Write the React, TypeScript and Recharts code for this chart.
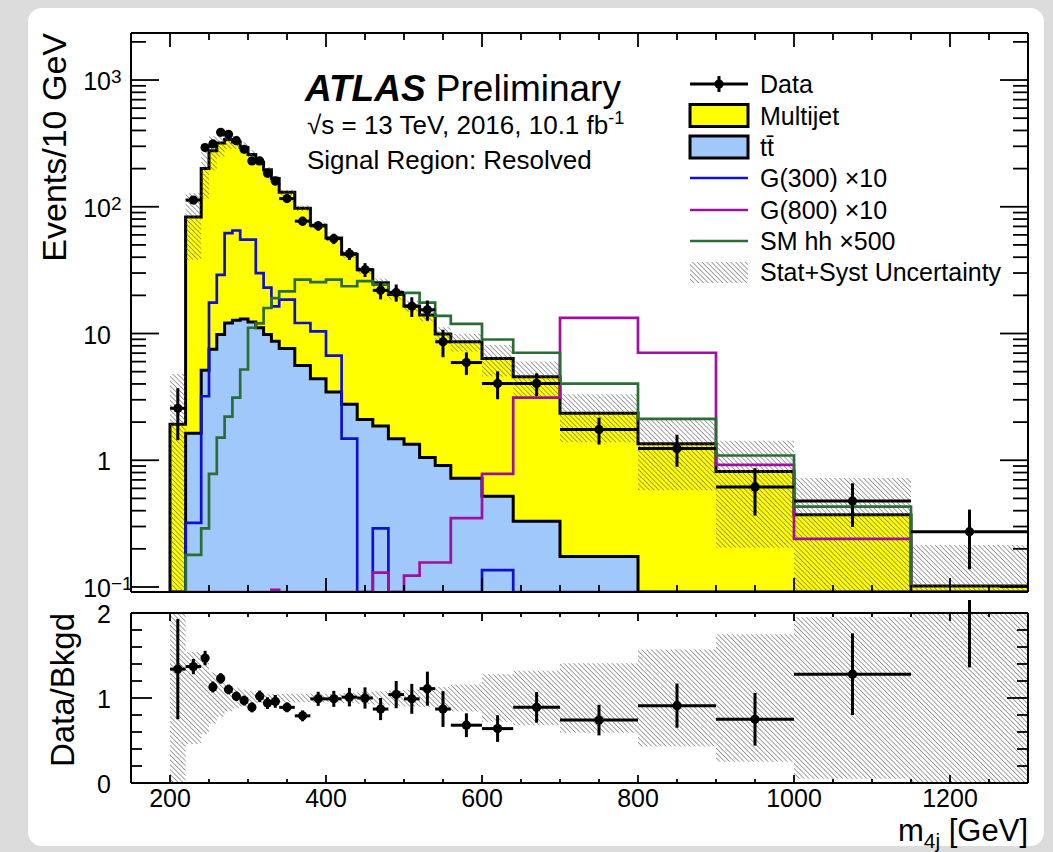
import React from "react";
import {
  ComposedChart,
  Area,
  Line,
  Scatter,
  ErrorBar,
  XAxis,
  YAxis,
  Legend,
} from "recharts";

const FONT = '"Liberation Sans", Arial, Helvetica, sans-serif';

// m4j bin edges [GeV]
const binEdges = [
  200, 220, 240, 250, 260, 270, 280, 290, 300, 310, 320, 330, 340, 360, 380, 400,
  420, 440, 460, 480, 500, 520, 540, 560, 600, 640, 700, 800, 900, 1000, 1150, 1300,
];

// events / 10 GeV, one value per bin
const dataCounts = [
  2.57, 113, 293, 313, 387, 373, 332, 284, 230, 230, 184, 160, 116, 77, 70.7, 56,
  42.6, 31.9, 21.9, 21.1, 16.4, 15.4, 8.6, 5.9, 4.03, 4.03, 1.75, 1.24, 0.616, 0.478, 0.273,
];
const dataErrors = [
  1.13, 7.5, 17.1, 17.7, 19.7, 19.3, 18.2, 16.9, 15.2, 15.2, 13.6, 12.6, 7.6, 6.2, 5.9, 5.3,
  4.6, 4.0, 3.3, 3.25, 2.9, 2.8, 2.1, 1.2, 1.0, 0.82, 0.42, 0.35, 0.25, 0.18, 0.135,
];
const totalBkgd = [
  1.92, 83, 200, 277, 318, 340, 325, 293, 258, 225, 196, 167, 130, 97.5, 71.4, 56.6,
  42.2, 31.9, 25.2, 20.3, 16.5, 14.0, 9.9, 8.6, 6.35, 4.55, 2.35, 1.35, 0.815, 0.372, 0.102,
];
const ttbar = [
  0, 1.63, 5.14, 7.5, 9.8, 12.1, 12.7, 13.0, 12.3, 11.1, 9.8, 8.7, 7.6, 5.6, 4.4, 3.45,
  2.76, 2.1, 1.86, 1.48, 1.34, 1.05, 0.91, 0.72, 0.52, 0.33, 0.174, 0, 0, 0, 0,
];
const g300 = [
  0, 0.32, 3.2, 17.5, 29, 62, 65, 55, 55, 30, 23, 16.4, 18.5, 12.1, 10.4, 6.7,
  1.48, 0, 0.29, 0, 0, 0, 0, 0, 0.136, 0, 0, 0, 0, 0, 0,
];
const g800 = [
  0, 0, 0, 0, 0, 0, 0, 0, 0, 0, 0, 0.095, 0, 0, 0, 0,
  0, 0, 0.13, 0, 0.123, 0.156, 0.156, 0.35, 0.78, 3.12, 13.3, 7.05, 0.92, 0.24, 0,
];
const smhh = [
  0, 0.179, 0.29, 0.78, 1.51, 2.21, 3.12, 5.2, 11.1, 12, 15.9, 19, 21.5, 26.6, 25.4, 26.6,
  23.6, 25.9, 24.3, 20.9, 20.9, 17.5, 13.8, 11.9, 8.97, 7.05, 4.03, 2.12, 1.09, 0.43, 0,
];
// relative stat+syst uncertainty on the background
const bkgdRelUnc = [
  1.5, 0.54, 0.42, 0.3, 0.22, 0.16, 0.12, 0.1, 0.08, 0.06, 0.05, 0.05, 0.05, 0.05, 0.05, 0.05,
  0.06, 0.07, 0.08, 0.09, 0.1, 0.11, 0.13, 0.16, 0.28, 0.32, 0.41, 0.57, 0.75, 0.95, 1.1,
];
const ratioVals = [
  1.34, 1.37, 1.47, 1.13, 1.23, 1.1, 1.02, 0.97, 0.89, 1.02, 0.94, 0.96, 0.89, 0.79, 0.99, 0.99,
  1.01, 1.0, 0.87, 1.04, 0.99, 1.11, 0.87, 0.68, 0.64, 0.89, 0.74, 0.91, 0.75, 1.28, 2.68,
];
const ratioErrs = [
  0.59, 0.09, 0.085, 0.064, 0.062, 0.057, 0.056, 0.058, 0.059, 0.068, 0.069, 0.075, 0.058, 0.064, 0.083, 0.094,
  0.109, 0.125, 0.13, 0.16, 0.176, 0.2, 0.21, 0.14, 0.157, 0.18, 0.18, 0.26, 0.31, 0.48, 1.32,
];

const xTicks = [
  200, 250, 300, 350, 400, 450, 500, 550, 600, 650, 700, 750, 800, 850, 900, 950, 1000, 1050,
  1100, 1150, 1200, 1250,
];
const logTicks = [
  0.1, 0.2, 0.3, 0.4, 0.5, 0.6, 0.7, 0.8, 0.9, 1, 2, 3, 4, 5, 6, 7, 8, 9, 10, 20, 30, 40, 50,
  60, 70, 80, 90, 100, 200, 300, 400, 500, 600, 700, 800, 900, 1000, 2000,
];
const ratioTicks = [0, 0.2, 0.4, 0.6, 0.8, 1, 1.2, 1.4, 1.6, 1.8, 2];

const legendLabels = [
  "Data",
  "Multijet",
  "tt\u0304",
  "G(300) \u00d710",
  "G(800) \u00d710",
  "SM hh \u00d7500",
  "Stat+Syst Uncertainty",
];

const COLORS = {
  multijet: "#ffff00",
  ttbar: "#a0c8fa",
  g300: "#1010d0",
  g800: "#a010a0",
  smhh: "#2a6e35",
  hatch: "#555",
};

const X_DOMAIN: [number, number] = [150, 1300];
const LOG_MIN = 0.0913;
const LOG_MAX = 2350;

const floorv = (v: number) => Math.max(v, LOG_MIN);
const last = totalBkgd.length - 1;

// step rows: one per bin low edge, plus the closing edge, plus a leading zero row
const stepRows = [
  {
    x: binEdges[0],
    total: LOG_MIN,
    tt: LOG_MIN,
    g300: LOG_MIN,
    g800: LOG_MIN,
    hh: LOG_MIN,
    band: [floorv(totalBkgd[0] * (1 - bkgdRelUnc[0])), totalBkgd[0] * (1 + bkgdRelUnc[0])],
    rband: [1 - bkgdRelUnc[0], 1 + bkgdRelUnc[0]],
  },
  ...binEdges.map((x, i) => {
    const b = Math.min(i, last);
    return {
      x,
      total: floorv(totalBkgd[b]),
      tt: floorv(ttbar[b]),
      g300: floorv(g300[b]),
      g800: floorv(g800[b]),
      hh: floorv(smhh[b]),
      band: [floorv(totalBkgd[b] * (1 - bkgdRelUnc[b])), totalBkgd[b] * (1 + bkgdRelUnc[b])],
      rband: [1 - bkgdRelUnc[b], 1 + bkgdRelUnc[b]],
    };
  }),
];

const dataPoints = dataCounts.map((v, i) => ({
  x: (binEdges[i] + binEdges[i + 1]) / 2,
  y: v,
  ex: (binEdges[i + 1] - binEdges[i]) / 2,
  ey: dataErrors[i],
}));

const ratioPoints = ratioVals.map((v, i) => ({
  x: (binEdges[i] + binEdges[i + 1]) / 2,
  y: v,
  ex: (binEdges[i + 1] - binEdges[i]) / 2,
  ey: ratioErrs[i],
}));

const near = (a: number, b: number) => Math.abs(a - b) < 1e-6;
const isDecade = (v: number) => near(Math.log10(v), Math.round(Math.log10(v)));
const isX200 = (v: number) => near(v / 200, Math.round(v / 200));
const isRatioMajor = (v: number) => near(v, Math.round(v));

type Side = "left" | "right" | "top" | "bottom";

// ROOT style ticks: drawn inward from the frame
const makeTick =
  (
    side: Side,
    isMajor: (v: number) => boolean,
    majorLen: number,
    minorLen: number,
    label?: (v: number, x: number, y: number) => React.ReactNode
  ) =>
  (props: any) => {
    const { x, y, payload } = props;
    const v = payload.value;
    const major = isMajor(v);
    const len = major ? majorLen : minorLen;
    let x2 = x;
    let y2 = y;
    if (side === "left") x2 = x + len;
    else if (side === "right") x2 = x - len;
    else if (side === "bottom") y2 = y - len;
    else y2 = y + len;
    return (
      <g>
        <line x1={x} y1={y} x2={x2} y2={y2} stroke="#000" strokeWidth={1.8} />
        {label && major ? label(v, x, y) : null}
      </g>
    );
  };

const logLabel = (v: number, x: number, y: number) => {
  const e = Math.round(Math.log10(v));
  const base = e === 0 ? "1" : "10";
  const sup = e === 0 || e === 1 ? null : e < 0 ? "\u2212" + Math.abs(e) : String(e);
  return (
    <g fontFamily={FONT} fill="#000">
      <text x={x - 20} y={y + 10} textAnchor="end" fontSize={25}>
        {base}
      </text>
      {sup && (
        <text x={x - 20} y={y + 3} fontSize={19}>
          {sup}
        </text>
      )}
    </g>
  );
};

const ratioYLabel = (v: number, x: number, y: number) => (
  <text x={x - 20} y={y + 10} textAnchor="end" fontSize={25} fontFamily={FONT} fill="#000">
    {String(v)}
  </text>
);

const xLabel = (v: number, x: number, y: number) => (
  <text x={x} y={y + 24} textAnchor="middle" fontSize={25} fontFamily={FONT} fill="#000">
    {String(v)}
  </text>
);

const frameLine = { stroke: "#000", strokeWidth: 2 };

const dotShape = (props: any) => <circle cx={props.cx} cy={props.cy} r={4.6} fill="#000" />;

function HatchPattern({ id }: { id: string }) {
  return (
    <pattern
      id={id}
      patternUnits="userSpaceOnUse"
      width={3.4}
      height={3.4}
      patternTransform="rotate(-45)"
    >
      <line x1={0} y1={0} x2={0} y2={3.4} stroke={COLORS.hatch} strokeWidth={1.1} />
    </pattern>
  );
}

function LegendBox() {
  const rowY = [20, 51.5, 83, 114, 146, 177, 208];
  return (
    <svg width={345} height={225} style={{ overflow: "visible" }}>
      <defs>
        <HatchPattern id="hatchLegend" />
      </defs>
      {legendLabels.map((lab, i) => {
        const cy = rowY[i];
        let sym: React.ReactNode = null;
        if (i === 0) {
          sym = (
            <g>
              <line x1={4} x2={62} y1={cy} y2={cy} stroke="#000" strokeWidth={3} />
              <line x1={33} x2={33} y1={cy - 8} y2={cy + 8} stroke="#000" strokeWidth={3} />
              <circle cx={33} cy={cy} r={4.6} fill="#000" />
            </g>
          );
        } else if (i === 1 || i === 2) {
          sym = (
            <rect
              x={4}
              y={cy - 11}
              width={58}
              height={22}
              fill={i === 1 ? COLORS.multijet : COLORS.ttbar}
              stroke="#000"
              strokeWidth={3}
            />
          );
        } else if (i < 6) {
          const c = i === 3 ? COLORS.g300 : i === 4 ? COLORS.g800 : COLORS.smhh;
          sym = <line x1={4} x2={62} y1={cy} y2={cy} stroke={c} strokeWidth={2.7} />;
        } else {
          sym = <rect x={4} y={cy - 10} width={58} height={21} fill="url(#hatchLegend)" />;
        }
        return (
          <g key={lab}>
            {sym}
            <text x={74} y={cy + 9} fontSize={25} fontFamily={FONT} fill="#000">
              {lab}
            </text>
          </g>
        );
      })}
    </svg>
  );
}

// shared axis props; axes need a non-zero size or recharts skips them
const xAxisBase = {
  dataKey: "x",
  type: "number" as const,
  domain: X_DOMAIN,
  allowDataOverflow: true,
  ticks: xTicks,
  interval: 0 as const,
  height: 1,
  tickSize: 0,
  tickMargin: 0,
  tickLine: false,
  axisLine: frameLine,
};

function MainPanel() {
  const yBase = {
    scale: "log" as const,
    type: "number" as const,
    domain: [LOG_MIN, LOG_MAX] as [number, number],
    allowDataOverflow: true,
    ticks: logTicks,
    interval: 0 as const,
    width: 1,
    tickSize: 0,
    tickMargin: 0,
    tickLine: false,
    axisLine: frameLine,
  };
  return (
    <ComposedChart
      width={1053}
      height={606}
      data={stepRows}
      margin={{ top: 32, right: 24, bottom: 13, left: 130 }}
    >
      <defs>
        <HatchPattern id="hatchTop" />
      </defs>
      <XAxis {...xAxisBase} tick={makeTick("bottom", isX200, 14, 7)} />
      <XAxis {...xAxisBase} xAxisId="top" orientation="top" tick={makeTick("top", isX200, 14, 7)} />
      <YAxis {...yBase} tick={makeTick("left", isDecade, 28, 15, logLabel)} />
      <YAxis
        {...yBase}
        yAxisId="right"
        orientation="right"
        tick={makeTick("right", isDecade, 28, 15)}
      />
      <Area
        type="stepAfter"
        dataKey="total"
        stroke="#000"
        strokeWidth={3}
        fill={COLORS.multijet}
        fillOpacity={1}
        dot={false}
        activeDot={false}
        isAnimationActive={false}
      />
      <Area
        type="stepAfter"
        dataKey="tt"
        stroke="#000"
        strokeWidth={3}
        fill={COLORS.ttbar}
        fillOpacity={1}
        dot={false}
        activeDot={false}
        isAnimationActive={false}
      />
      <Area
        type="stepAfter"
        dataKey="band"
        stroke="none"
        fill="url(#hatchTop)"
        fillOpacity={1}
        dot={false}
        activeDot={false}
        isAnimationActive={false}
      />
      <Line
        type="stepAfter"
        dataKey="g300"
        stroke={COLORS.g300}
        strokeWidth={2.7}
        dot={false}
        activeDot={false}
        isAnimationActive={false}
      />
      <Line
        type="stepAfter"
        dataKey="g800"
        stroke={COLORS.g800}
        strokeWidth={2.7}
        dot={false}
        activeDot={false}
        isAnimationActive={false}
      />
      <Line
        type="stepAfter"
        dataKey="hh"
        stroke={COLORS.smhh}
        strokeWidth={2.7}
        dot={false}
        activeDot={false}
        isAnimationActive={false}
      />
      <Scatter data={dataPoints} dataKey="y" shape={dotShape} isAnimationActive={false}>
        <ErrorBar dataKey="ey" direction="y" width={0} stroke="#000" strokeWidth={3} />
        <ErrorBar dataKey="ex" direction="x" width={0} stroke="#000" strokeWidth={3} />
      </Scatter>
      <Legend
        layout="vertical"
        align="center"
        verticalAlign="middle"
        content={() => <LegendBox />}
        wrapperStyle={{ position: "absolute", left: 686, top: 64, width: 345, height: 225 }}
      />
      <text
        x={66}
        y={33}
        transform="rotate(-90 66 33)"
        textAnchor="end"
        fontSize={34}
        fontFamily={FONT}
        fill="#000"
      >
        Events/10 GeV
      </text>
      <text x={305} y={101} fontSize={37} fontFamily={FONT} fill="#000">
        <tspan fontWeight="bold" fontStyle="italic">
          ATLAS
        </tspan>
        <tspan> Preliminary</tspan>
      </text>
      <text x={307} y={134} fontSize={26} fontFamily={FONT} fill="#000">
        {"\u221as = 13 TeV, 2016, 10.1 fb"}
        <tspan fontSize={18} dy={-10}>
          -1
        </tspan>
      </text>
      <text x={307} y={169} fontSize={26} fontFamily={FONT} fill="#000">
        Signal Region: Resolved
      </text>
    </ComposedChart>
  );
}

function RatioPanel() {
  const yBase = {
    type: "number" as const,
    domain: [0, 2] as [number, number],
    allowDataOverflow: true,
    ticks: ratioTicks,
    interval: 0 as const,
    width: 1,
    tickSize: 0,
    tickMargin: 0,
    tickLine: false,
    axisLine: frameLine,
  };
  return (
    <ComposedChart
      width={1053}
      height={252}
      data={stepRows}
      margin={{ top: 12, right: 24, bottom: 68, left: 130 }}
    >
      <defs>
        <HatchPattern id="hatchRatio" />
      </defs>
      <XAxis {...xAxisBase} tick={makeTick("bottom", isX200, 8, 4, xLabel)} />
      <XAxis {...xAxisBase} xAxisId="top" orientation="top" tick={makeTick("top", isX200, 8, 4)} />
      <YAxis {...yBase} tick={makeTick("left", isRatioMajor, 21, 11, ratioYLabel)} />
      <YAxis
        {...yBase}
        yAxisId="right"
        orientation="right"
        tick={makeTick("right", isRatioMajor, 21, 11)}
      />
      <Area
        type="stepAfter"
        dataKey="rband"
        stroke="none"
        fill="url(#hatchRatio)"
        fillOpacity={1}
        dot={false}
        activeDot={false}
        isAnimationActive={false}
      />
      <Scatter data={ratioPoints} dataKey="y" shape={dotShape} isAnimationActive={false}>
        <ErrorBar dataKey="ey" direction="y" width={0} stroke="#000" strokeWidth={3} />
        <ErrorBar dataKey="ex" direction="x" width={0} stroke="#000" strokeWidth={3} />
      </Scatter>
      <text
        x={74}
        y={13}
        transform="rotate(-90 74 13)"
        textAnchor="end"
        fontSize={33}
        fontFamily={FONT}
        fill="#000"
      >
        Data/Bkgd
      </text>
      <text x={1028} y={241} textAnchor="end" fontSize={31} fontFamily={FONT} fill="#000">
        m
        <tspan fontSize={21} dy={7}>
          4j
        </tspan>
        <tspan dy={-7}> [GeV]</tspan>
      </text>
    </ComposedChart>
  );
}

export default function App() {
  return (
    <div
      style={{
        position: "absolute",
        left: 0,
        top: 0,
        width: 1053,
        height: 852,
        background: "#dcdcdc",
        overflow: "hidden",
        fontFamily: FONT,
      }}
    >
      <div
        style={{
          position: "absolute",
          left: 28,
          top: 8,
          width: 1016,
          height: 838,
          background: "#fff",
          borderRadius: 14,
        }}
      />
      <div style={{ position: "absolute", left: 0, top: 0 }}>
        <MainPanel />
      </div>
      <div style={{ position: "absolute", left: 0, top: 600 }}>
        <RatioPanel />
      </div>
    </div>
  );
}
